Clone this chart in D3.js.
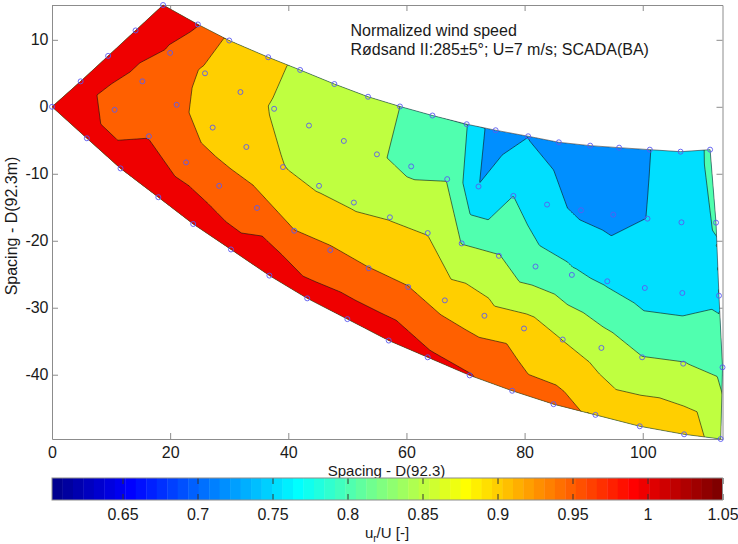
<!DOCTYPE html>
<html>
<head>
<meta charset="utf-8">
<script src="https://cdn.jsdelivr.net/npm/d3@7"></script>
<style>
  body { margin: 0; background: #fff; }
  svg text { font-family: "Liberation Sans", Arial, sans-serif; fill: #1a1a1a; }
</style>
</head>
<body>
<svg id="chart" width="738" height="544"></svg>
<script>
// turbine positions in spacing units (D = 92.3 m), one array per row, row1 = top row of the plot
const row1X = [18.8, 24.7, 30.0, 36.6, 42.0, 47.8, 53.5, 58.9, 64.4, 70.2, 75.1, 80.6, 85.8, 91.1, 96.0, 101.2, 106.4, 111.4];
const row1Y = [15.2, 12.3, 9.9, 7.4, 5.5, 3.4, 1.5, 0.05, -1.3, -2.6, -3.5, -4.4, -5.3, -5.8, -6.1, -6.4, -6.7, -6.4];
const row2X = [14.15, 20.0, 25.9, 31.9, 37.6, 43.5, 49.4, 55.0, 60.8, 66.9, 72.2, 78.1, 83.8, 89.55, 95.0, 100.8, 106.55, 112.4];
const row2Y = [11.4, 8.05, 5.0, 2.2, -0.3, -2.8, -5.1, -7.1, -8.9, -10.8, -11.9, -13.3, -14.6, -15.45, -16.1, -16.7, -17.25, -17.3];
const row3X = [9.5, 15.3, 21.1, 27.2, 32.9, 39.1, 45.2, 51.1, 57.2, 63.6, 69.35, 75.65, 81.85, 88.0, 94.0, 100.35, 106.7, 112.9];
const row3Y = [7.6, 3.8, 0.3, -3.1, -6.0, -9.0, -11.8, -14.3, -16.5, -18.85, -20.4, -22.25, -23.85, -25.1, -26.05, -27.05, -27.8, -28.2];
const row4X = [4.85, 10.6, 16.4, 22.7, 28.3, 34.7, 41.0, 47.1, 53.6, 60.3, 66.5, 73.2, 79.9, 86.45, 93.0, 99.9, 106.85, 113.5];
const row4Y = [3.8, -0.45, -4.4, -8.3, -11.8, -15.1, -18.5, -21.4, -24.1, -26.9, -28.9, -31.2, -33.1, -34.75, -36.0, -37.4, -38.35, -38.9];
const row5X = [0, 5.9, 11.6, 18.0, 23.9, 30.3, 36.8, 43.2, 50.0, 57.0, 63.6, 70.7, 77.9, 84.9, 92.0, 99.5, 107.0, 113.2];
const row5Y = [0, -4.7, -9.2, -13.5, -17.5, -21.3, -25.2, -28.6, -31.7, -34.9, -37.4, -40.1, -42.4, -44.4, -46.0, -47.7, -48.9, -49.6];

// normalized wind speed u_r/U per turbine
const row1U = [1.03, 1.002, 0.94, 0.915, 0.89, 0.88, 0.865, 0.85, 0.825, 0.802, 0.72, 0.749, 0.738, 0.718, 0.725, 0.749, 0.78, 0.805];
const row2U = [1.035, 0.994, 0.94, 0.919, 0.896, 0.8825, 0.87, 0.855, 0.838, 0.848, 0.752, 0.80, 0.765, 0.74, 0.73, 0.751, 0.78, 0.803];
const row3U = [1.035, 0.98, 0.962, 0.927, 0.92, 0.901, 0.893, 0.892, 0.897, 0.898, 0.849, 0.852, 0.818, 0.808, 0.793, 0.775, 0.775, 0.787];
const row4U = [1.03, 0.9675, 0.998, 0.98, 0.973, 0.968, 0.951, 0.955, 0.951, 0.951, 0.93, 0.92, 0.925, 0.899, 0.876, 0.851, 0.852, 0.837];
const row5U = [1.04, 1.0325, 1.03, 1.03, 1.033, 1.021, 1.045, 1.024, 1.029, 1.03, 1.01, 1.003, 0.974, 0.9714, 0.9385, 0.94, 0.932, 0.874];

const levels = [0.75, 0.8, 0.85, 0.9, 0.95, 1.0];
const xTicks = [0, 20, 40, 60, 80, 100];
const yTicks = [10, 0, -10, -20, -30, -40];
const cbTicks = [0.65, 0.7, 0.75, 0.8, 0.85, 0.9, 0.95, 1, 1.05];
const cbRange = [0.603, 1.05];

function jet(t) {
  const c = v => Math.round(255 * Math.max(0, Math.min(1, v)));
  return d3.rgb(c(1.5 - Math.abs(4 * t - 3)), c(1.5 - Math.abs(4 * t - 2)), c(1.5 - Math.abs(4 * t - 1))).formatHex();
}

const svg = d3.select("#chart");
const plotLeft = 52, plotRight = 722.5, plotTop = 5, plotBottom = 439;

const rows = [[row1X, row1Y, row1U], [row2X, row2Y, row2U], [row3X, row3Y, row3U], [row4X, row4Y, row4U], [row5X, row5Y, row5U]];
const turbines = rows.flatMap(([xs, ys, us]) => xs.map((v, i) => ({ x: v, y: ys[i], u: us[i] })));

const x = d3.scaleLinear().domain([0, d3.max(turbines, d => d.x)]).range([plotLeft, plotRight]);
const y = d3.scaleLinear().domain(d3.extent(turbines, d => d.y)).range([plotBottom, plotTop]);
const color = d3.scaleQuantize().domain(cbRange).range(d3.range(64).map(i => jet((i + 1) / 64)));

// farm outline: bottom row, last column, top row back, first column down
const n = row1X.length;
const outline = [
  ...row5X.map((v, i) => [v, row5Y[i]]),
  [row4X[n - 1], row4Y[n - 1]], [row3X[n - 1], row3Y[n - 1]], [row2X[n - 1], row2Y[n - 1]],
  ...row1X.map((v, i) => [v, row1Y[i]]).reverse(),
  [row2X[0], row2Y[0]], [row3X[0], row3Y[0]], [row4X[0], row4Y[0]]
];
const outlinePath = d3.line().x(d => x(d[0])).y(d => y(d[1]))(outline) + "Z";

svg.append("defs").append("clipPath").attr("id", "farm")
  .append("path").attr("d", outlinePath);

// axes (drawn below the filled contours, like the original)
const axisColor = "#8c8c8c";
function styleAxis(g, size) {
  g.selectAll(".domain, .tick line").attr("stroke", axisColor);
  g.selectAll("text").attr("font-size", size).attr("fill", "#1a1a1a")
    .attr("font-family", "Liberation Sans, Arial, sans-serif");
}
svg.append("g").attr("transform", `translate(0,${plotBottom})`)
  .call(d3.axisBottom(x).tickValues(xTicks).tickSizeInner(-6).tickSizeOuter(0).tickPadding(7.6).tickFormat(d => String(d)))
  .call(g => styleAxis(g, 16));
svg.append("g").attr("transform", `translate(0,${plotTop})`)
  .call(d3.axisTop(x).tickValues(xTicks).tickSizeInner(-6).tickSizeOuter(0).tickFormat(""))
  .call(g => styleAxis(g, 16));
svg.append("g").attr("transform", `translate(${plotLeft},0)`)
  .call(d3.axisLeft(y).tickValues(yTicks).tickSizeInner(-6).tickSizeOuter(0).tickPadding(3.5).tickFormat(d => String(d)))
  .call(g => styleAxis(g, 16));
svg.append("g").attr("transform", `translate(${plotRight},0)`)
  .call(d3.axisRight(y).tickValues(yTicks).tickSizeInner(-6).tickSizeOuter(0).tickFormat(""))
  .call(g => styleAxis(g, 16));

// linear interpolation on the Delaunay triangulation, sampled on a 1px grid
const delaunay = d3.Delaunay.from(turbines, d => d.x, d => d.y);
const tris = [];
for (let t = 0; t < delaunay.triangles.length; t += 3) {
  const [a, b, c] = [0, 1, 2].map(k => turbines[delaunay.triangles[t + k]]);
  const ax = x(a.x), ay = y(a.y), bx = x(b.x), by = y(b.y), cx = x(c.x), cy = y(c.y);
  tris.push({ ax, ay, bx, by, cx, cy, det: (by - cy) * (ax - cx) + (cx - bx) * (ay - cy), ua: a.u, ub: b.u, uc: c.u });
}
function bary(tr, px, py) {
  const l1 = ((tr.by - tr.cy) * (px - tr.cx) + (tr.cx - tr.bx) * (py - tr.cy)) / tr.det;
  const l2 = ((tr.cy - tr.ay) * (px - tr.cx) + (tr.ax - tr.cx) * (py - tr.cy)) / tr.det;
  return [l1, l2, 1 - l1 - l2];
}
const gx0 = plotLeft - 4, gy0 = plotTop - 4;
const nx = Math.ceil(plotRight - plotLeft) + 9, ny = Math.ceil(plotBottom - plotTop) + 9;
const values = new Float64Array(nx * ny).fill(NaN);
tris.forEach(tr => {
  const i0 = Math.max(0, Math.floor(Math.min(tr.ax, tr.bx, tr.cx) - gx0));
  const i1 = Math.min(nx - 1, Math.ceil(Math.max(tr.ax, tr.bx, tr.cx) - gx0));
  const j0 = Math.max(0, Math.floor(Math.min(tr.ay, tr.by, tr.cy) - gy0));
  const j1 = Math.min(ny - 1, Math.ceil(Math.max(tr.ay, tr.by, tr.cy) - gy0));
  for (let j = j0; j <= j1; j++) for (let i = i0; i <= i1; i++) {
    const l = bary(tr, gx0 + i, gy0 + j);
    if (l[0] >= -1e-9 && l[1] >= -1e-9 && l[2] >= -1e-9)
      values[j * nx + i] = l[0] * tr.ua + l[1] * tr.ub + l[2] * tr.uc;
  }
});
// outside the hull: extend the plane of the closest triangle (clipped away later)
for (let j = 0; j < ny; j++) for (let i = 0; i < nx; i++) {
  const k = j * nx + i;
  if (!isNaN(values[k])) continue;
  let best = -Infinity, val = 0;
  tris.forEach(tr => {
    const l = bary(tr, gx0 + i, gy0 + j);
    const m = Math.min(l[0], l[1], l[2]);
    if (m > best) { best = m; val = l[0] * tr.ua + l[1] * tr.ub + l[2] * tr.uc; }
  });
  values[k] = val;
}

const bands = d3.contours().size([nx, ny]).thresholds(levels)(values);
const gpath = d3.geoPath(d3.geoIdentity().scale(1).translate([gx0 - 0.5, gy0 - 0.5]));

const plot = svg.append("g").attr("clip-path", "url(#farm)");
// lowest region takes the colour of the smallest measured value
plot.append("path")
  .attr("d", outlinePath)
  .attr("fill", color(d3.min(turbines, d => d.u)));
plot.selectAll("path.band")
  .data(bands)
  .join("path")
  .attr("class", "band")
  .attr("d", gpath)
  .attr("fill", d => color(d.value));
plot.selectAll("path.iso")
  .data(bands)
  .join("path")
  .attr("class", "iso")
  .attr("d", gpath)
  .attr("fill", "none")
  .attr("stroke", "#111")
  .attr("stroke-width", 0.6);

svg.append("path")
  .attr("d", outlinePath)
  .attr("fill", "none")
  .attr("stroke", "#333")
  .attr("stroke-width", 0.6);

svg.append("g").selectAll("circle")
  .data(turbines)
  .join("circle")
  .attr("cx", d => x(d.x))
  .attr("cy", d => y(d.y))
  .attr("r", 2.5)
  .attr("fill", "none")
  .attr("stroke", "#5a5af0")
  .attr("stroke-width", 0.9);

// titles and labels
svg.append("text").attr("x", 350.5).attr("y", 36).attr("font-size", 16).text("Normalized wind speed");
svg.append("text").attr("x", 350.5).attr("y", 54.5).attr("font-size", 16).text("Rødsand II:285±5°; U=7 m/s; SCADA(BA)");
svg.append("text").attr("x", 386.5).attr("y", 475.5).attr("font-size", 15).attr("text-anchor", "middle").text("Spacing - D(92.3)");
svg.append("text").attr("transform", "translate(16.5,226) rotate(-90)").attr("font-size", 16)
  .attr("text-anchor", "middle").text("Spacing - D(92.3m)");

// colorbar
const cbTop = 478, cbBottom = 500;
const cb = d3.scaleLinear().domain(cbRange).range([plotLeft, plotRight]);
svg.append("g").selectAll("rect")
  .data(color.range())
  .join("rect")
  .attr("x", c => cb(color.invertExtent(c)[0]))
  .attr("width", c => cb(color.invertExtent(c)[1]) - cb(color.invertExtent(c)[0]) + 0.4)
  .attr("y", cbTop)
  .attr("height", cbBottom - cbTop)
  .attr("fill", c => c);
svg.append("g").attr("transform", `translate(0,${cbBottom})`)
  .call(d3.axisBottom(cb).tickValues(cbTicks).tickSizeInner(-6).tickSizeOuter(0).tickPadding(8.6).tickFormat(d => String(d)))
  .call(g => { styleAxis(g, 16); g.select(".domain").remove(); g.selectAll(".tick line").attr("stroke", "#333"); });
svg.append("g").attr("transform", `translate(0,${cbTop})`)
  .call(d3.axisTop(cb).tickValues(cbTicks).tickSizeInner(-6).tickSizeOuter(0).tickFormat(""))
  .call(g => { g.select(".domain").remove(); g.selectAll(".tick line").attr("stroke", "#333"); });
svg.append("rect")
  .attr("x", plotLeft).attr("y", cbTop)
  .attr("width", plotRight - plotLeft).attr("height", cbBottom - cbTop)
  .attr("fill", "none").attr("stroke", axisColor);

const cbLabel = svg.append("text").attr("x", 387).attr("y", 538).attr("font-size", 15).attr("text-anchor", "middle");
cbLabel.append("tspan").text("u");
cbLabel.append("tspan").attr("font-size", 10).attr("dy", 4).text("r");
cbLabel.append("tspan").attr("dy", -4).text("/U [-]");
</script>
</body>
</html>
